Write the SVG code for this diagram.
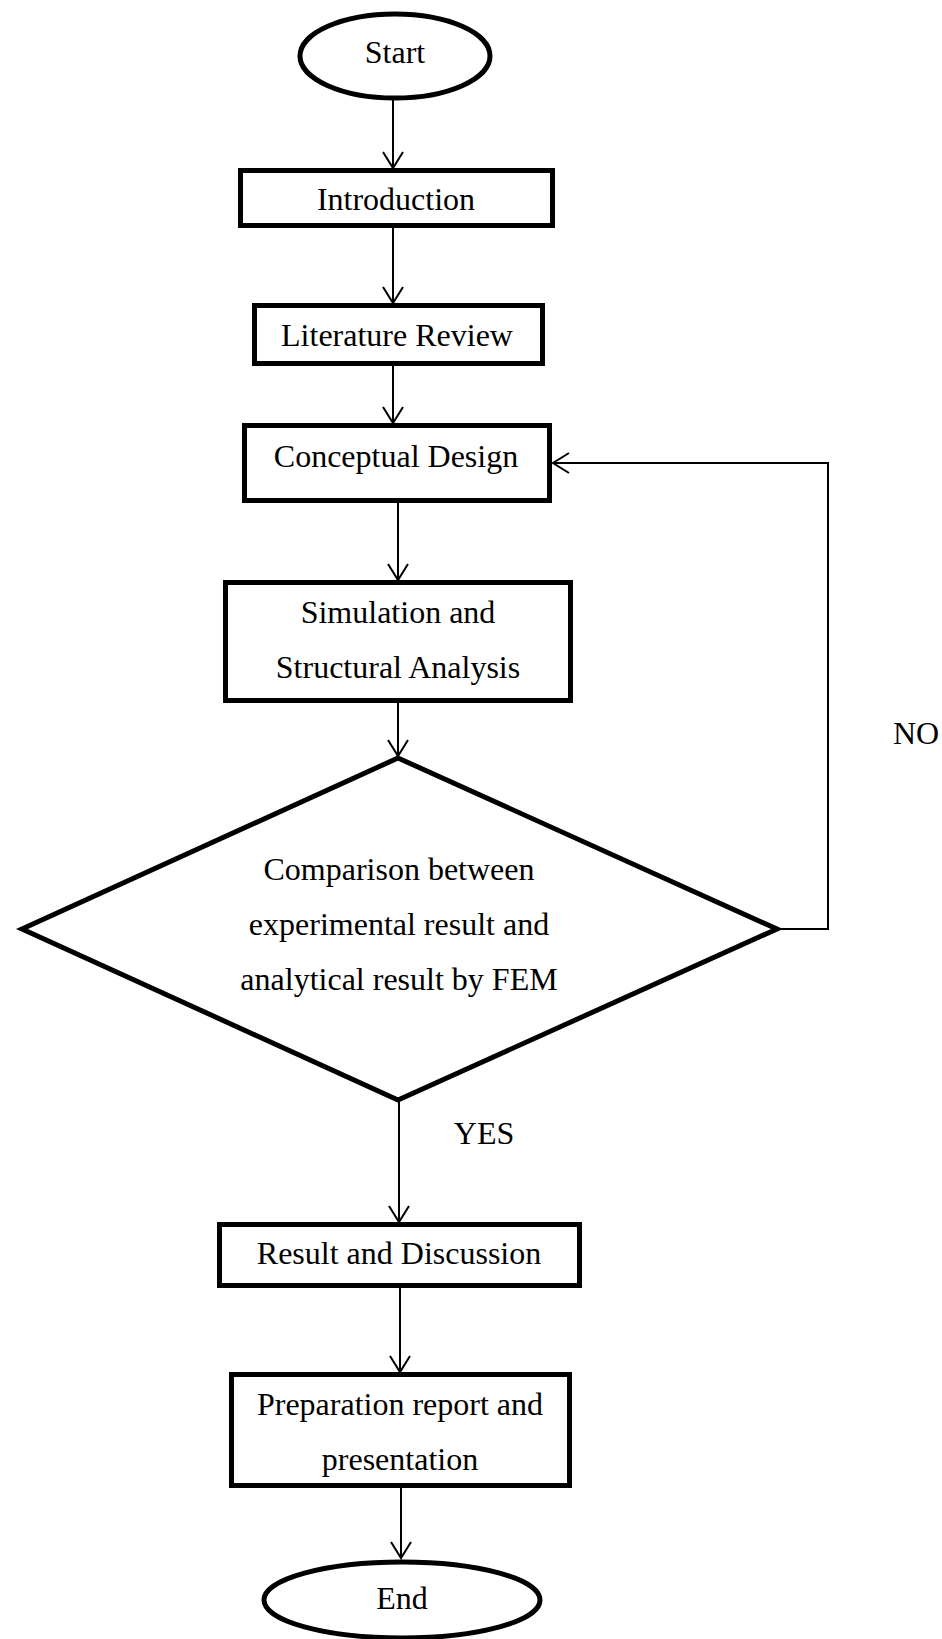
<svg xmlns="http://www.w3.org/2000/svg" width="942" height="1639" viewBox="0 0 942 1639">
<style>
.node{fill:#fff;stroke:#000;stroke-width:5}
.oval{fill:#fff;stroke:#000;stroke-width:5}
.lbl{font-family:"Liberation Serif","Times New Roman",serif;font-size:32px;fill:#000;text-anchor:middle}
.edge{fill:none;stroke:#000;stroke-width:2}
</style>
<defs>
<marker id="arr" markerUnits="userSpaceOnUse" markerWidth="22" markerHeight="24" refX="17" refY="11" orient="auto">
<path d="M1,1 L17,11 L1,21" fill="none" stroke="#000" stroke-width="2"/>
</marker>
</defs>
<rect width="942" height="1639" fill="#fff"/>
<g id="connectors">
<path class="edge" d="M393,100 L393,168" marker-end="url(#arr)"/>
<path class="edge" d="M393,228 L393,303" marker-end="url(#arr)"/>
<path class="edge" d="M393,366 L393,423" marker-end="url(#arr)"/>
<path class="edge" d="M398,503 L398,580" marker-end="url(#arr)"/>
<path class="edge" d="M398,703 L398,756" marker-end="url(#arr)"/>
<path class="edge" d="M399,1101 L399,1222" marker-end="url(#arr)"/>
<path class="edge" d="M400,1288 L400,1372" marker-end="url(#arr)"/>
<path class="edge" d="M401,1488 L401,1558" marker-end="url(#arr)"/>
<path class="edge" d="M779,929 L828,929 L828,463 L553,463" marker-end="url(#arr)"/>
<text class="lbl" x="484" y="1144">YES</text>
<text class="lbl" x="916" y="744">NO</text>
</g>
<g id="start">
<ellipse class="oval" cx="395" cy="56" rx="95" ry="42"/>
<text class="lbl" x="395" y="63">Start</text>
</g>
<g id="introduction">
<rect class="node" x="240.5" y="170.5" width="312" height="55"/>
<text class="lbl" x="396" y="210">Introduction</text>
</g>
<g id="literature">
<rect class="node" x="254.5" y="305.5" width="288" height="58"/>
<text class="lbl" x="397" y="346">Literature Review</text>
</g>
<g id="conceptual">
<rect class="node" x="244.5" y="425.5" width="305" height="75"/>
<text class="lbl" x="396" y="467">Conceptual Design</text>
</g>
<g id="simulation">
<rect class="node" x="225.5" y="582.5" width="345" height="118"/>
<text class="lbl" x="398" y="623">Simulation and</text>
<text class="lbl" x="398" y="678">Structural Analysis</text>
</g>
<g id="comparison">
<polygon class="node" points="398,758 777,929 398,1100 22,929"/>
<text class="lbl" x="399" y="880">Comparison between</text>
<text class="lbl" x="399" y="935">experimental result and</text>
<text class="lbl" x="399" y="990">analytical result by FEM</text>
</g>
<g id="result">
<rect class="node" x="219.5" y="1224.5" width="360" height="61"/>
<text class="lbl" x="399" y="1264">Result and Discussion</text>
</g>
<g id="preparation">
<rect class="node" x="231.5" y="1374.5" width="338" height="111"/>
<text class="lbl" x="400" y="1415">Preparation report and</text>
<text class="lbl" x="400" y="1470">presentation</text>
</g>
<g id="end">
<ellipse class="oval" cx="402" cy="1600" rx="138" ry="38"/>
<text class="lbl" x="402" y="1609">End</text>
</g>
</svg>
